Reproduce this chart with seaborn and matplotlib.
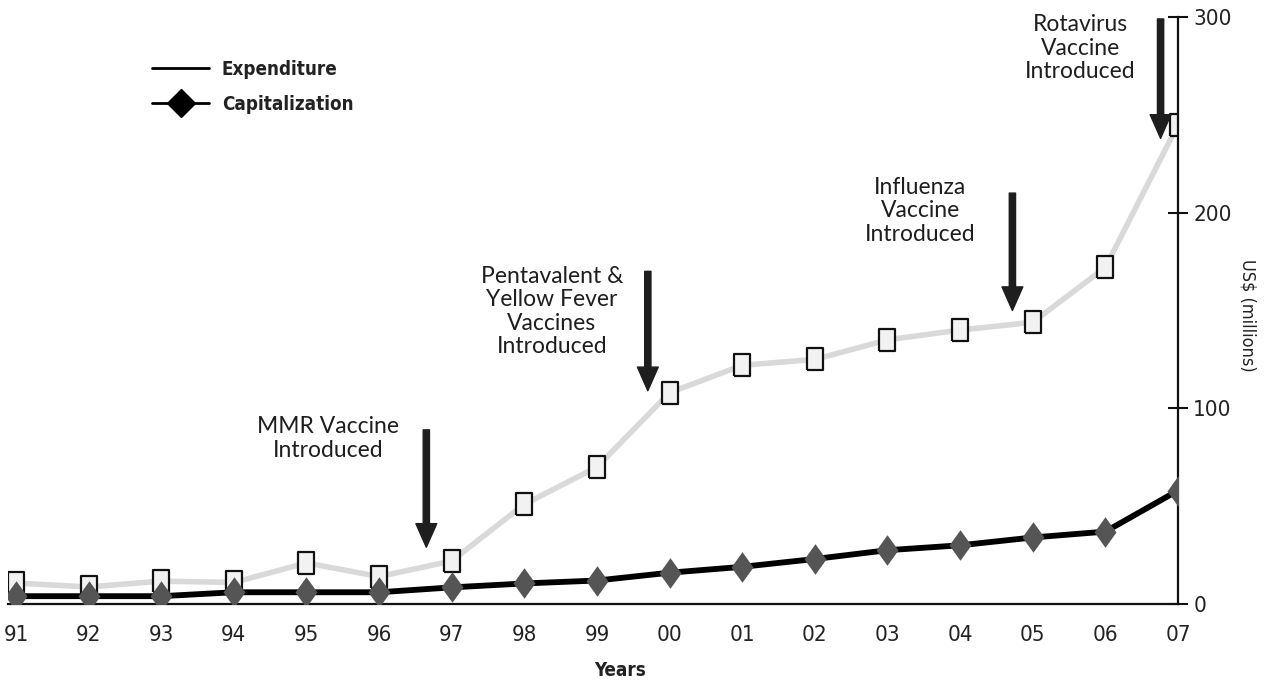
import matplotlib
matplotlib.use("Agg")
import matplotlib.pyplot as plt
from matplotlib.lines import Line2D
import pandas as pd
import seaborn as sns

# ── Data ────────────────────────────────────────────────────────────────────
years = list(range(1991, 2008))
year_labels = ["91", "92", "93", "94", "95", "96", "97", "98", "99",
               "00", "01", "02", "03", "04", "05", "06", "07"]
expenditure = [10.7, 8.7, 11.7, 11.0, 21.0, 14.0, 22.0, 51.0, 70.0,
               108.0, 122.0, 125.0, 135.0, 140.0, 144.0, 172.0, 245.0]
capitalization = [4.0, 4.0, 4.0, 6.0, 6.0, 6.0, 8.5, 10.5, 12.0,
                  16.0, 19.0, 23.0, 27.5, 30.0, 34.0, 37.0, 58.0]
event_labels = ["MMR Vaccine\nIntroduced",
                "Pentavalent &\nYellow Fever\nVaccines\nIntroduced",
                "Influenza\nVaccine\nIntroduced",
                "Rotavirus\nVaccine\nIntroduced"]
event_years = [1996.65, 1999.7, 2004.72, 2006.76]

df = pd.DataFrame({"year": years, "Expenditure": expenditure,
                   "Capitalization": capitalization})

sns.set_theme(style="white")
plt.rcParams["font.family"] = ["DejaVu Sans"]
plt.rcParams["font.stretch"] = "condensed"

fig = plt.figure(figsize=(12.72, 6.81), dpi=100)
ax = fig.add_axes([8 / 1272, 77 / 681, 1170 / 1272, 587 / 681])

# rectangular marker (slightly taller than wide) and tall diamond
rect = [(-0.38, -0.5), (0.38, -0.5), (0.38, 0.5), (-0.38, 0.5), (-0.38, -0.5)]
diam = [(0, -0.5), (0.36, 0), (0, 0.5), (-0.36, 0), (0, -0.5)]

sns.lineplot(data=df, x="year", y="Expenditure", ax=ax, color="#d9d9d9",
             linewidth=4, marker=rect, markersize=16, markerfacecolor="#f2f2f2",
             markeredgecolor="#111111", markeredgewidth=1.6, zorder=2)
sns.lineplot(data=df, x="year", y="Capitalization", ax=ax, color="#000000",
             linewidth=4.2, marker=diam, markersize=22, markerfacecolor="#555555",
             markeredgecolor="#555555", markeredgewidth=0, zorder=3)

# ── Axes ────────────────────────────────────────────────────────────────────
ax.set_xlim(1990.89, 2007)
ax.set_ylim(0, 300)
ax.spines[["top", "left"]].set_visible(False)
for side in ["right", "bottom"]:
    ax.spines[side].set_linewidth(1.6)
    ax.spines[side].set_color("#111111")

ax.set_xticks(years)
ax.set_xticklabels(year_labels, fontsize=16, color="#222222")
ax.tick_params(axis="x", direction="out", length=9, width=1.5, color="#111111", pad=6)

ax.yaxis.tick_right()
ax.yaxis.set_label_position("right")
ax.set_yticks([0, 100, 200, 300])
ax.set_yticklabels(["0", "100", "200", "300"], fontsize=16, color="#222222")
ax.tick_params(axis="y", direction="inout", length=14, width=1.5, color="#111111", pad=4)

ax.set_xlabel("Years", fontsize=13.5, fontweight="bold", color="#222222")
ax.xaxis.set_label_coords((620 - 8) / 1170, (604 - 661) / 587)
ax.set_ylabel("US$ (millions)", fontsize=13, color="#222222", rotation=-90, va="center")
ax.yaxis.set_label_coords((1248 - 8) / 1170, (315 - 17) / -587 + 1)

# ── Event annotations ──────────────────────────────────────────────────────
text_pos = [(1995.3, 84.7), (1998.38, 149.5), (2003.45, 201), (2005.66, 284)]
arrow_span = [(89, 29), (170, 109), (210, 150), (299, 238)]
for label, ex, (tx, ty), (y0, y1) in zip(event_labels, event_years, text_pos, arrow_span):
    ax.annotate("", xy=(ex, y1), xytext=(ex, y0),
                arrowprops=dict(width=4.5, headwidth=15, headlength=17,
                                color="#1e1e1e", shrink=0), zorder=4)
    ax.text(tx, ty, label, ha="center", va="center", fontsize=16.5,
            family=["Lato", "DejaVu Sans"], fontstretch="normal",
            color="#1e1e1e", linespacing=1.15)

# ── Legend ─────────────────────────────────────────────────────────────────
handles = [Line2D([], [], color="#000000", linewidth=2),
           Line2D([], [], color="#000000", linewidth=2, marker="D",
                  markersize=14, markerfacecolor="#000000")]
leg = ax.legend(handles, ["Expenditure", "Capitalization"], loc="upper left",
                bbox_to_anchor=(0.109, 0.956), frameon=False, handlelength=3.0,
                handletextpad=0.7, labelspacing=0.85,
                prop={"size": 13.5, "weight": "bold", "stretch": "condensed"})
for t in leg.get_texts():
    t.set_color("#222222")

fig.savefig("out.png", dpi=100)
plt.close(fig)
